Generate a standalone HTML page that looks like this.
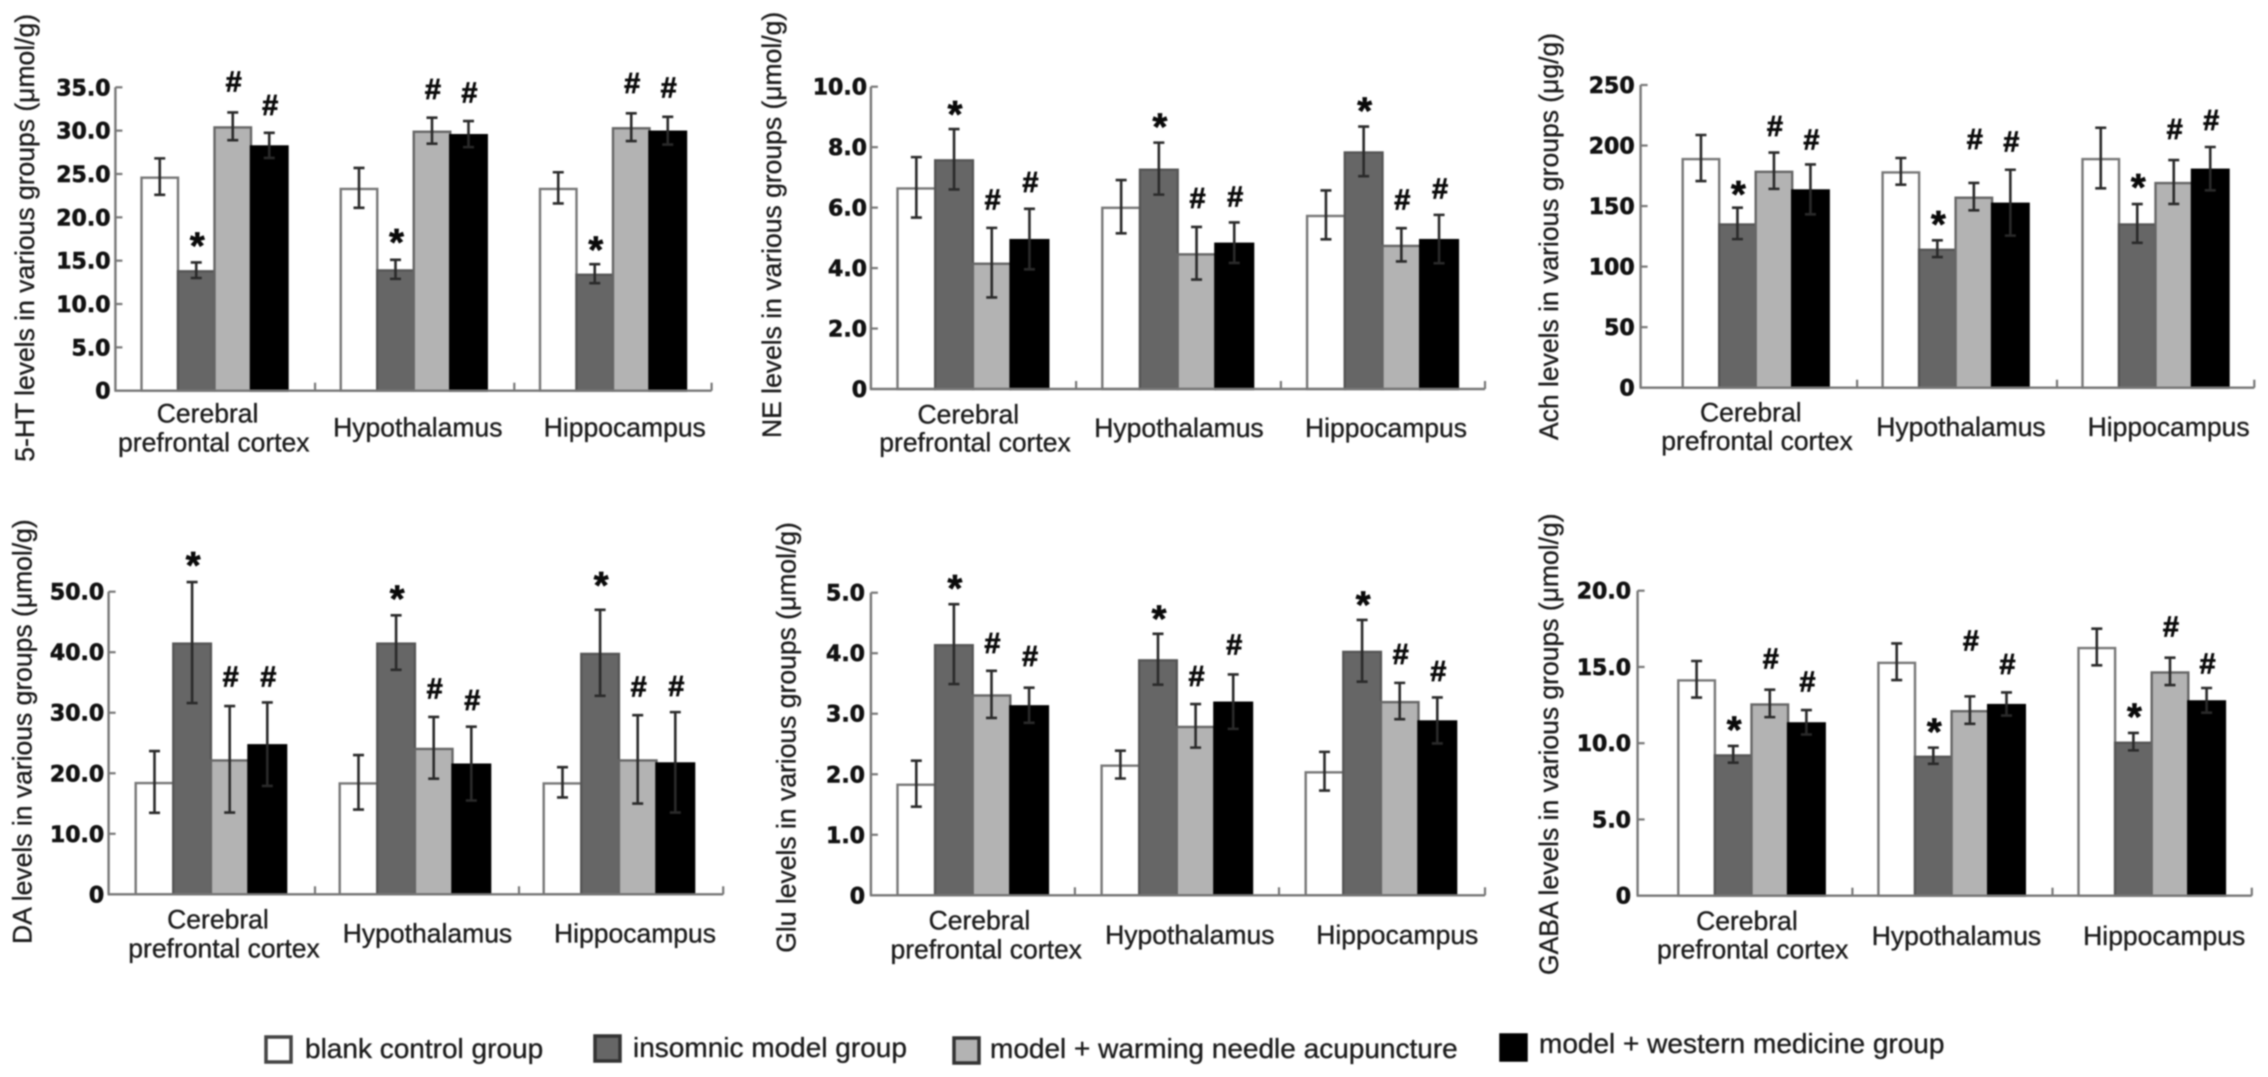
<!DOCTYPE html>
<html lang="en">
<head>
<meta charset="utf-8">
<title>Neurotransmitter levels in various groups</title>
<style>
  html, body { margin: 0; padding: 0; background: #fff; }
  body { width: 2268px; height: 1077px; overflow: hidden; }
  svg { display: block; filter: blur(0.7px); }
  .y-title, .cat-label, .legend-text { font-family: "Liberation Sans", sans-serif; fill: #1c1c1c; stroke: #1c1c1c; stroke-width: 0.35px; }
  .y-title, .cat-label { font-size: 26.5px; }
  .legend-text { font-size: 28px; }
  .tick-label { font-family: "DejaVu Sans", sans-serif; font-weight: 700; font-size: 22px; fill: #111; stroke: #111; stroke-width: 0.6px; text-anchor: end; }
  .sig-mark { font-family: "Liberation Sans", sans-serif; font-weight: 700; fill: #0a0a0a; stroke: #0a0a0a; stroke-width: 0.7px; text-anchor: middle; }
</style>
</head>
<body>
<svg id="figure" width="2268" height="1077" viewBox="0 0 2268 1077" xmlns="http://www.w3.org/2000/svg">
  <g id="charts"></g>
  <g id="legend">
    <rect x="266" y="1037" width="25" height="25" fill="#fff" stroke="#444" stroke-width="3.5"/>
    <text class="legend-text" x="305" y="1058">blank control group</text>
    <rect x="595" y="1036" width="25" height="25" fill="#666" stroke="#333" stroke-width="3.5"/>
    <text class="legend-text" x="633" y="1057">insomnic model group</text>
    <rect x="954" y="1038" width="25" height="25" fill="#b3b3b3" stroke="#333" stroke-width="3.5"/>
    <text class="legend-text" x="990" y="1058">model + warming needle acupuncture</text>
    <rect x="1501" y="1035" width="25" height="25" fill="#000" stroke="#000" stroke-width="3.5"/>
    <text class="legend-text" x="1539" y="1053">model + western medicine group</text>
  </g>
</svg>
<script>
// ---- Shared categories ----
const regionNames = ['Cerebral prefrontal cortex', 'Hypothalamus', 'Hippocampus'];
const seriesNames = ['blank control', 'insomnic model', 'warming needle', 'western medicine'];
const sigSymbols = ['', '*', '#', '#'];

// ---- 5-HT: rows = regions, columns = groups ----
const ht5Means = [[24.7, 13.9, 30.5, 28.3], [23.4, 14.0, 30.0, 29.6], [23.4, 13.5, 30.4, 30.0]];
const ht5Errors = [[2.1, 0.9, 1.6, 1.45], [2.3, 1.1, 1.5, 1.5], [1.8, 1.1, 1.6, 1.6]];
const ht5SigGaps = [[0, 2.9, 3.55, 3.2], [0, 2.95, 3.3, 3.3], [0, 2.6, 3.5, 3.4]];
const ht5Ticks = [0, 5, 10, 15, 20, 25, 30, 35];
const ht5TickLabels = ['0', '5.0', '10.0', '15.0', '20.0', '25.0', '30.0', '35.0'];

// ---- NE ----
const neMeans = [[6.67, 7.6, 4.18, 4.96], [6.03, 7.29, 4.49, 4.84], [5.76, 7.86, 4.77, 4.96]];
const neErrors = [[1.0, 1.0, 1.15, 1.0], [0.88, 0.86, 0.87, 0.67], [0.81, 0.82, 0.55, 0.8]];
const neSigGaps = [[0, 0.76, 0.94, 0.88], [0, 0.8, 0.95, 0.85], [0, 0.8, 0.95, 0.88]];
const neTicks = [0, 2, 4, 6, 8, 10];
const neTickLabels = ['0', '2.0', '4.0', '6.0', '8.0', '10.0'];

// ---- Ach ----
const achMeans = [[189.7, 135.7, 179.2, 163.8], [178.7, 114.8, 157.8, 152.8], [189.7, 135.7, 169.9, 180.9]];
const achErrors = [[19, 13, 15, 20.6], [11, 6.9, 11.3, 27.2], [25, 16, 18.1, 17.9]];
const achSigGaps = [[0, 17.8, 21.9, 20.7], [0, 20.1, 36.3, 23.2], [0, 20.7, 25.7, 22.3]];
const achTicks = [0, 50, 100, 150, 200, 250];
const achTickLabels = ['0', '50', '100', '150', '200', '250'];

// ---- DA ----
const daMeans = [[18.56, 41.6, 22.3, 24.8], [18.5, 41.6, 24.2, 21.6], [18.5, 39.9, 22.3, 21.8]];
const daErrors = [[5.1, 10, 8.8, 6.9], [4.5, 4.5, 5.1, 6.1], [2.5, 7.1, 7.3, 8.3]];
const daSigGaps = [[0, 4.1, 4.9, 4.3], [0, 4.1, 4.7, 4.4], [0, 5.4, 4.7, 4.3]];
const daTicks = [0, 10, 20, 30, 40, 50];
const daTickLabels = ['0', '10.0', '20.0', '30.0', '40.0', '50.0'];

// ---- Glu ----
const gluMeans = [[1.845, 4.15, 3.32, 3.14], [2.16, 3.9, 2.8, 3.2], [2.05, 4.04, 3.21, 2.89]];
const gluErrors = [[0.38, 0.66, 0.39, 0.29], [0.23, 0.42, 0.36, 0.45], [0.32, 0.51, 0.3, 0.38]];
const gluSigGaps = [[0, 0.4, 0.46, 0.52], [0, 0.39, 0.46, 0.49], [0, 0.39, 0.48, 0.44]];
const gluTicks = [0, 1, 2, 3, 4, 5];
const gluTickLabels = ['0', '1.0', '2.0', '3.0', '4.0', '5.0'];

// ---- GABA ----
const gabaMeans = [[14.19, 9.27, 12.61, 11.37], [15.34, 9.18, 12.17, 12.57], [16.31, 10.1, 14.71, 12.81]];
const gabaErrors = [[1.2, 0.55, 0.9, 0.8], [1.2, 0.53, 0.9, 0.76], [1.2, 0.57, 0.9, 0.81]];
const gabaSigGaps = [[0, 1.59, 2.05, 1.86], [0, 1.59, 3.65, 1.86], [0, 1.61, 2.03, 1.61]];
const gabaTicks = [0, 5, 10, 15, 20];
const gabaTickLabels = ['0', '5.0', '10.0', '15.0', '20.0'];

// ---- Panels: data references and frame geometry ----
const panels = [
  { key: 'serotonin', title: '5-HT levels in various groups (μmol/g)', means: ht5Means, errors: ht5Errors, gaps: ht5SigGaps, ticks: ht5Ticks, labels: ht5TickLabels,
    axisLeft: 115.4, axisRight: 711.6, top: 87.3, base: 390.7, first: 141.5, step: 199.25, barW: 36.5, gap: 25.7, labelRight: 110.5,
    titleX: 34, titleY: 461.7,
    cat: [[207.6, 422.7], [213.8, 451.7], [417.8, 436.7], [624.8, 436.7]] },
  { key: 'norepinephrine', title: 'NE levels in various groups (μmol/g)', means: neMeans, errors: neErrors, gaps: neSigGaps, ticks: neTicks, labels: neTickLabels,
    axisLeft: 870.9, axisRight: 1485, top: 86.7, base: 389, first: 897.5, step: 204.8, barW: 37.7, gap: 26.2, labelRight: 867,
    titleX: 781, titleY: 438,
    cat: [[968.3, 423.3], [975, 451.7], [1179, 437], [1386, 437]] },
  { key: 'acetylcholine', title: 'Ach levels in various groups (μg/g)', means: achMeans, errors: achErrors, gaps: achSigGaps, ticks: achTicks, labels: achTickLabels,
    axisLeft: 1640.6, axisRight: 2254.3, top: 85, base: 387.7, first: 1682.7, step: 199.9, barW: 36.5, gap: 25.5, labelRight: 1634.7,
    titleX: 1557.8, titleY: 440,
    cat: [[1750.8, 421.7], [1757, 450], [1961, 436], [2168.6, 436]] },
  { key: 'dopamine', title: 'DA levels in various groups (μmol/g)', means: daMeans, errors: daErrors, gaps: daSigGaps, ticks: daTicks, labels: daTickLabels,
    axisLeft: 108.6, axisRight: 723.2, top: 591.7, base: 894.3, first: 135.7, step: 204, barW: 37.6, gap: 24.7, labelRight: 104.2,
    titleX: 31.5, titleY: 944,
    cat: [[218, 928.3], [224, 957.3], [427.5, 942.7], [635, 942.7]] },
  { key: 'glutamate', title: 'Glu levels in various groups (μmol/g)', means: gluMeans, errors: gluErrors, gaps: gluSigGaps, ticks: gluTicks, labels: gluTickLabels,
    axisLeft: 870.9, axisRight: 1485, top: 592.7, base: 895.3, first: 897.5, step: 204.1, barW: 37.6, gap: 26.7, labelRight: 865,
    titleX: 795.7, titleY: 952.7,
    cat: [[979.4, 929.3], [986.2, 958.3], [1189.8, 944], [1397.3, 944]] },
  { key: 'gaba', title: 'GABA levels in various groups (μmol/g)', means: gabaMeans, errors: gabaErrors, gaps: gabaSigGaps, ticks: gabaTicks, labels: gabaTickLabels,
    axisLeft: 1637.6, axisRight: 2251.8, top: 590.7, base: 895.7, first: 1678.3, step: 200.1, barW: 36.6, gap: 26, labelRight: 1631,
    titleX: 1557.8, titleY: 975,
    cat: [[1746.9, 930], [1752.7, 958.3], [1956.5, 945], [2164.2, 945]] }
];

const seriesFills = ['#ffffff', '#666666', '#b3b3b3', '#000000'];
const seriesStrokes = ['#777777', '#555555', '#666666', '#000000'];
const NS = 'http://www.w3.org/2000/svg';

function make(parent, tag, attrs, text) {
  const el = document.createElementNS(NS, tag);
  for (const k in attrs) el.setAttribute(k, attrs[k]);
  if (text !== undefined) el.textContent = text;
  parent.appendChild(el);
  return el;
}

function drawPanel(p) {
  const root = document.getElementById('charts');
  const g = make(root, 'g', {});
  
  

  const yMax = p.ticks[p.ticks.length - 1];
  const y = v => p.base - (v / yMax) * (p.base - p.top);
  const barX = (r, s) => p.first + r * p.step + s * p.barW;

  // Bars first, then axes over them (stroke kept inside the measured bar top)
  regionNames.forEach((region, r) => {
    seriesNames.forEach((name, s) => {
      const top = y(p.means[r][s]) + 1.1;
      const bar = make(g, 'rect', {
        x: barX(r, s), y: top, width: p.barW, height: p.base - top,
        fill: seriesFills[s], stroke: seriesStrokes[s], 'stroke-width': 2.4
      });
      
      
    });
  });

  // Error bars and significance marks
  regionNames.forEach((region, r) => {
    seriesNames.forEach((name, s) => {
      const cx = barX(r, s) + p.barW / 2;
      const hi = y(p.means[r][s] + p.errors[r][s]);
      const lo = y(p.means[r][s] - p.errors[r][s]);
      const path = make(g, 'path', {
        d: 'M' + cx + ' ' + hi + 'V' + lo +
           'M' + (cx - 5.5) + ' ' + hi + 'H' + (cx + 5.5) +
           'M' + (cx - 5.5) + ' ' + lo + 'H' + (cx + 5.5),
        stroke: '#2a2a2a', 'stroke-width': 2.6, fill: 'none'
      });
      
      

      const sym = sigSymbols[s];
      if (sym) {
        const cy = y(p.means[r][s] + p.errors[r][s] + p.gaps[r][s]);
        const size = sym === '*' ? 38 : 29;
        const shift = sym === '*' ? 21 : 10;
        const mark = make(g, 'text', {
          class: 'sig-mark', x: cx + 1, y: cy + shift, 'font-size': size
        }, sym);
        
        
      }
    });
  });

  // Axes
  const axisY = make(g, 'line', { x1: p.axisLeft, x2: p.axisLeft, y1: p.top, y2: p.base, stroke: '#777', 'stroke-width': 2.4 });
  
  
  const axisX = make(g, 'line', { x1: p.axisLeft - 1, x2: p.axisRight, y1: p.base, y2: p.base, stroke: '#777', 'stroke-width': 2.4 });
  
  

  p.ticks.forEach((t, i) => {
    const ty = y(t);
    if (t !== 0) {
      const tick = make(g, 'line', { x1: p.axisLeft, x2: p.axisLeft + 7, y1: ty, y2: ty, stroke: '#777', 'stroke-width': 2.2 });
      
      
    }
    const label = make(g, 'text', { class: 'tick-label', x: p.labelRight, y: ty + 8 }, p.labels[i]);
    
    
  });

  [1, 2].forEach(r => {
    const tx = barX(r, 0) - p.gap;
    const tick = make(g, 'line', { x1: tx, x2: tx, y1: p.base, y2: p.base - 8, stroke: '#777', 'stroke-width': 2.2 });
    
    
  });
  const endTick = make(g, 'line', { x1: p.axisRight, x2: p.axisRight, y1: p.base, y2: p.base - 8, stroke: '#777', 'stroke-width': 2.2 });
  
  

  // Category labels
  const words = ['Cerebral', 'prefrontal cortex', regionNames[1], regionNames[2]];
  words.forEach((w, i) => {
    const label = make(g, 'text', { class: 'cat-label', x: p.cat[i][0], y: p.cat[i][1], 'text-anchor': 'middle' }, w);
    
    
  });

  // Y-axis title
  const title = make(g, 'text', {
    class: 'y-title', x: p.titleX, y: p.titleY,
    transform: 'rotate(-90 ' + p.titleX + ' ' + p.titleY + ')'
  }, p.title);
  
  
}

panels.forEach(drawPanel);
</script>
</body>
</html>
